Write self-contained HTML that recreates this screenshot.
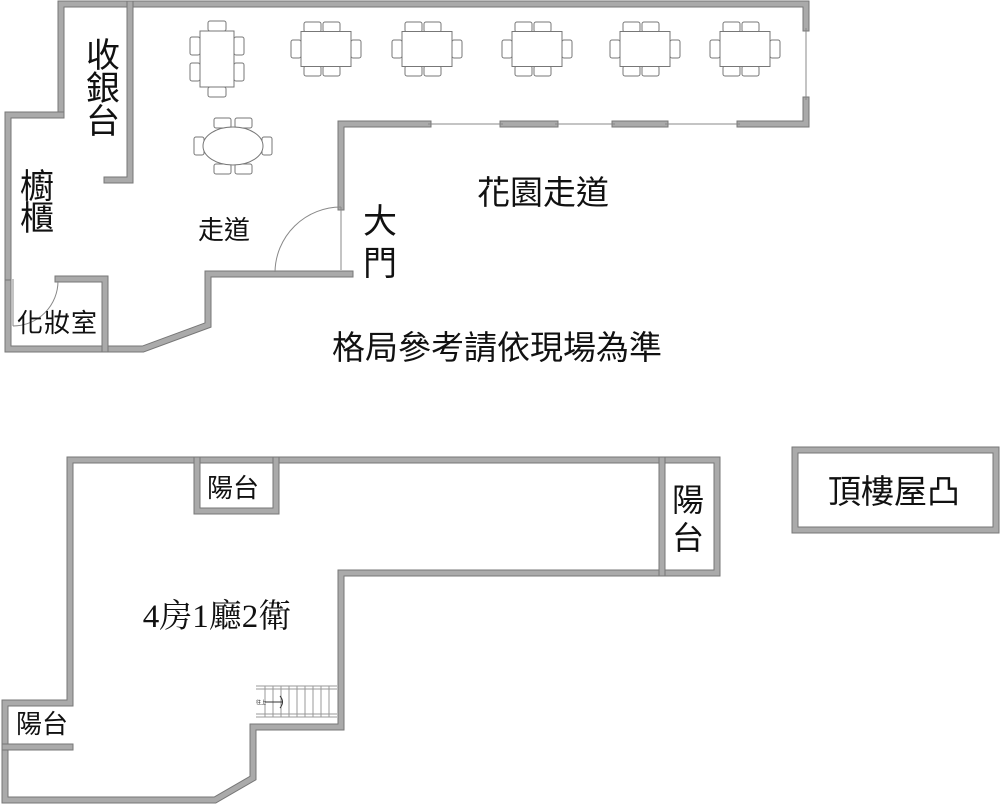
<!DOCTYPE html>
<html><head><meta charset="utf-8"><style>
html,body{margin:0;padding:0;background:#fff;}
svg{display:block}
text{font-family:"Liberation Sans","Noto Sans CJK TC",sans-serif;fill:#111;}
.w{fill:none;stroke:#777;stroke-width:7;stroke-linejoin:miter;stroke-linecap:square}
.wi{fill:none;stroke:#aaa;stroke-width:5;stroke-linejoin:miter;stroke-linecap:square}
.f{fill:#fff;stroke:#777;stroke-width:1}
.t{fill:none;stroke:#888;stroke-width:1}
</style></head><body>
<svg width="1000" height="805" viewBox="0 0 1000 805" xmlns="http://www.w3.org/2000/svg">
<defs>
<g id="ht">
 <rect class="f" x="-22" y="-27" width="17" height="10" rx="2"/><rect class="f" x="-3" y="-27" width="17" height="10" rx="2"/>
 <rect class="f" x="-22" y="17" width="17" height="10" rx="2"/><rect class="f" x="-3" y="17" width="17" height="10" rx="2"/>
 <rect class="f" x="-35" y="-9" width="10" height="18" rx="2"/><rect class="f" x="25" y="-9" width="10" height="18" rx="2"/>
 <rect class="f" x="-25" y="-17.5" width="50" height="35"/>
</g>
</defs>
<!-- top building -->
<g>
<polyline class="w" points="61,115 61,4 806,4 806,28"/>
<polyline class="wi" points="61,115 61,4 806,4 806,28"/>
<polyline class="w" points="806,100 806,124 740,124"/><polyline class="wi" points="806,100 806,124 740,124"/>
<polyline class="w" points="665,124 615,124"/><polyline class="wi" points="665,124 615,124"/>
<polyline class="w" points="555,124 503,124"/><polyline class="wi" points="555,124 503,124"/>
<polyline class="w" points="428,124 341,124 341,207"/><polyline class="wi" points="428,124 341,124 341,207"/>
<polyline class="w" points="350,274 208,274 208,325 143,349 8,349 8,279"/><polyline class="wi" points="350,274 208,274 208,325 143,349 8,349 8,279"/>
<polyline class="w" points="8,277 8,115 61,115"/><polyline class="wi" points="8,277 8,115 61,115"/>
<polyline class="w" points="130,4 130,180 107,180"/><polyline class="wi" points="130,4 130,180 107,180"/>
<polyline class="w" points="58,279 105,279 105,349"/><polyline class="wi" points="58,279 105,279 105,349"/>
<line class="t" x1="806" y1="28" x2="806" y2="100"/>
<line class="t" x1="428" y1="124" x2="503" y2="124"/>
<line class="t" x1="555" y1="124" x2="615" y2="124"/>
<line class="t" x1="665" y1="124" x2="740" y2="124"/>
<line class="t" x1="341" y1="207" x2="341" y2="270"/>
<path class="t" d="M275,272 A66,66 0 0 1 341,207"/>
<line class="t" x1="13" y1="279" x2="13" y2="326"/>
<path class="t" d="M13,326 A45,45 0 0 0 58,281"/>
</g>
<!-- tables -->
<use href="#ht" x="326" y="49"/><use href="#ht" x="427" y="49"/><use href="#ht" x="537" y="49"/><use href="#ht" x="645" y="49"/><use href="#ht" x="745" y="49"/>
<g transform="translate(217,59)">
 <rect class="f" x="-9" y="-38" width="18" height="10" rx="2"/><rect class="f" x="-9" y="28" width="18" height="10" rx="2"/>
 <rect class="f" x="-27" y="-22" width="10" height="18" rx="2"/><rect class="f" x="-27" y="4" width="10" height="18" rx="2"/>
 <rect class="f" x="17" y="-22" width="10" height="18" rx="2"/><rect class="f" x="17" y="4" width="10" height="18" rx="2"/>
 <rect class="f" x="-17" y="-28" width="34" height="56"/>
</g>
<g transform="translate(233,146)">
 <rect class="f" x="-19" y="-28" width="17" height="10" rx="2"/><rect class="f" x="2" y="-28" width="17" height="10" rx="2"/>
 <rect class="f" x="-19" y="18" width="17" height="10" rx="2"/><rect class="f" x="2" y="18" width="17" height="10" rx="2"/>
 <rect class="f" x="-39" y="-9" width="10" height="18" rx="2"/><rect class="f" x="29" y="-9" width="10" height="18" rx="2"/>
 <ellipse class="f" cx="0" cy="0" rx="30" ry="19"/>
</g>
<!-- bottom building -->
<polyline class="w" points="70,703 70,460 717,460 717,573 341,573 341,727 253,727 253,778 215,800 5,800 5,703 70,703"/>
<polyline class="wi" points="70,703 70,460 717,460 717,573 341,573 341,727 253,727 253,778 215,800 5,800 5,703 70,703"/>
<polyline class="w" points="197,460 197,511 276,511 276,460"/><polyline class="wi" points="197,460 197,511 276,511 276,460"/>
<line class="w" x1="662" y1="460" x2="662" y2="573"/><line class="wi" x1="662" y1="460" x2="662" y2="573"/>
<line class="w" x1="5" y1="747" x2="70" y2="747"/><line class="wi" x1="5" y1="747" x2="70" y2="747"/>
<rect class="w" x="795" y="450" width="201" height="80"/><rect class="wi" x="795" y="450" width="201" height="80"/>
<!-- stairs -->
<g stroke="#999" stroke-width="1" fill="none">
<line x1="256" y1="686" x2="337" y2="686"/><line x1="256" y1="689" x2="337" y2="689"/>
<line x1="256" y1="714" x2="337" y2="714"/><line x1="256" y1="717" x2="337" y2="717"/>
<line x1="265" y1="686" x2="265" y2="717"/><line x1="273" y1="686" x2="273" y2="717"/><line x1="281" y1="686" x2="281" y2="717"/><line x1="289" y1="686" x2="289" y2="717"/><line x1="297" y1="686" x2="297" y2="717"/><line x1="305" y1="686" x2="305" y2="717"/><line x1="313" y1="686" x2="313" y2="717"/><line x1="321" y1="686" x2="321" y2="717"/><line x1="329" y1="686" x2="329" y2="717"/>
<line x1="265" y1="702" x2="282" y2="702" stroke="#333"/><path d="M280,696 Q285,702 280,708" stroke="#333"/>
</g>
<text x="256" y="704" font-size="5">往上</text>
<!-- labels -->
<g font-size="34">
<text x="103" y="67" text-anchor="middle">收</text>
<text x="103" y="100" text-anchor="middle">銀</text>
<text x="103" y="133" text-anchor="middle">台</text>
<text x="37" y="198" text-anchor="middle">櫥</text>
<text x="37" y="230" text-anchor="middle">櫃</text>
<text x="380" y="233" text-anchor="middle">大</text>
<text x="380" y="275" text-anchor="middle">門</text>
</g>
<text x="224" y="239" font-size="26" text-anchor="middle">走道</text>
<text x="543" y="204" font-size="33" text-anchor="middle">花園走道</text>
<text x="57" y="332" font-size="26" text-anchor="middle" textLength="80">化妝室</text>
<text x="497" y="359" font-size="33" text-anchor="middle">格局參考請依現場為準</text>
<text x="217" y="627" font-size="33" text-anchor="middle" style="font-family:'Liberation Serif','Noto Serif CJK SC',serif">4房1廳2衛</text>
<text x="233" y="497" font-size="26" text-anchor="middle">陽台</text>
<text x="688" y="511" font-size="32" text-anchor="middle">陽</text>
<text x="688" y="549" font-size="32" text-anchor="middle">台</text>
<text x="42" y="733" font-size="26" text-anchor="middle">陽台</text>
<text x="894" y="503" font-size="33" text-anchor="middle">頂樓屋凸</text>
</svg>
</body></html>
